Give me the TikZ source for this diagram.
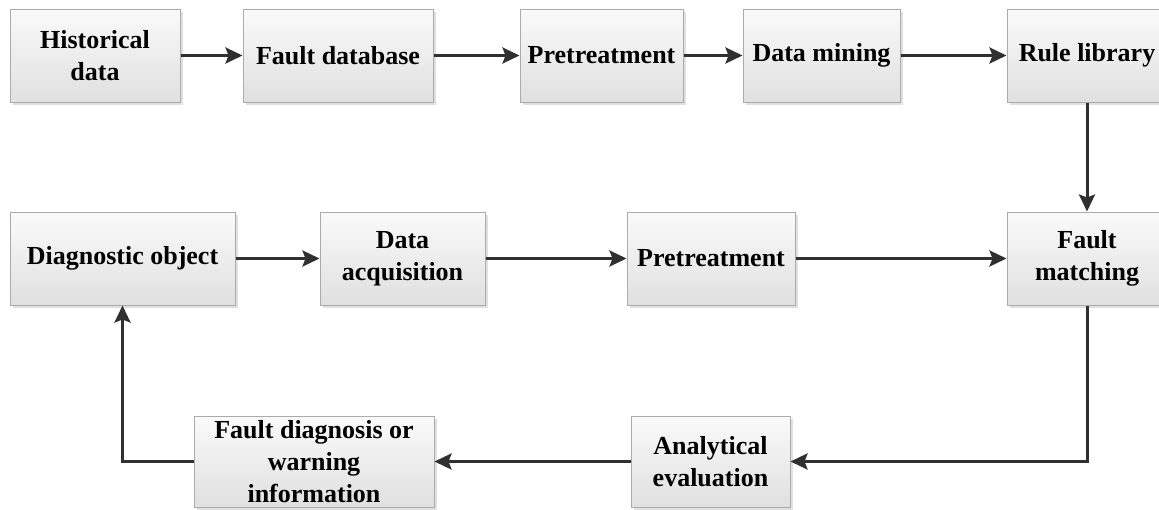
\documentclass[tikz,border=0pt]{standalone}
\usepackage{fontspec}
\setmainfont{Liberation Serif}
\usetikzlibrary{arrows.meta,shadows}
\definecolor{linec}{HTML}{303030}
\definecolor{boxborder}{HTML}{ABABAB}
\definecolor{boxtop}{HTML}{FAFAFA}
\definecolor{boxbot}{HTML}{E0E0E0}
\tikzset{
  box/.style={draw=boxborder, line width=1pt, top color=boxtop, bottom color=boxbot,
    align=center, inner sep=0pt, minimum height=93pt,
    font=\fontsize{26}{32}\selectfont\bfseries,
    drop shadow={shadow xshift=2.5pt, shadow yshift=-2.5pt, opacity=0.35, fill=gray!70}},
  conn/.style={draw=linec, line width=3pt,
    -{Stealth[length=17pt,width=16pt,inset=3pt]}}
}
\begin{document}
\begin{tikzpicture}[x=1pt,y=-1pt]
\useasboundingbox (0,0) rectangle (1159,509);
% row 1
\node[box, minimum width=170pt] (hist) at (95,55.5) {Historical\\data};
\node[box, minimum width=190pt] (fdb) at (338,55.5) {Fault database};
\node[box, minimum width=163pt] (pre1) at (601.5,55.5) {Pretreatment};
\node[box, minimum width=157pt] (dm) at (821.5,55.5) {Data mining};
\node[box, minimum width=160pt] (rule) at (1087,55.5) {Rule library};
% row 2
\node[box, minimum width=225pt] (diag) at (122.5,258.5) {Diagnostic object};
\node[box, minimum width=165pt] (acq) at (402.5,258.5) {Data\\acquisition};
\node[box, minimum width=168pt] (pre2) at (711,258.5) {Pretreatment};
\node[box, minimum width=160pt] (match) at (1087,258.5) {Fault\\matching};
% row 3
\node[box, minimum width=240pt, minimum height=91pt] (fdiag) at (314,461.5) {Fault diagnosis or\\warning\\information};
\node[box, minimum width=159pt, minimum height=91pt] (anal) at (710.5,461.5) {Analytical\\evaluation};
% connectors
\draw[conn] (hist) -- (fdb);
\draw[conn] (fdb) -- (pre1);
\draw[conn] (pre1) -- (dm);
\draw[conn] (dm) -- (rule);
\draw[conn] (rule) -- (match);
\draw[conn] (diag) -- (acq);
\draw[conn] (acq) -- (pre2);
\draw[conn] (pre2) -- (match);
\draw[conn] (match.south) |- (anal.east);
\draw[conn] (anal) -- (fdiag);
\draw[conn] (fdiag.west) -| (diag.south);
\end{tikzpicture}
\end{document}
